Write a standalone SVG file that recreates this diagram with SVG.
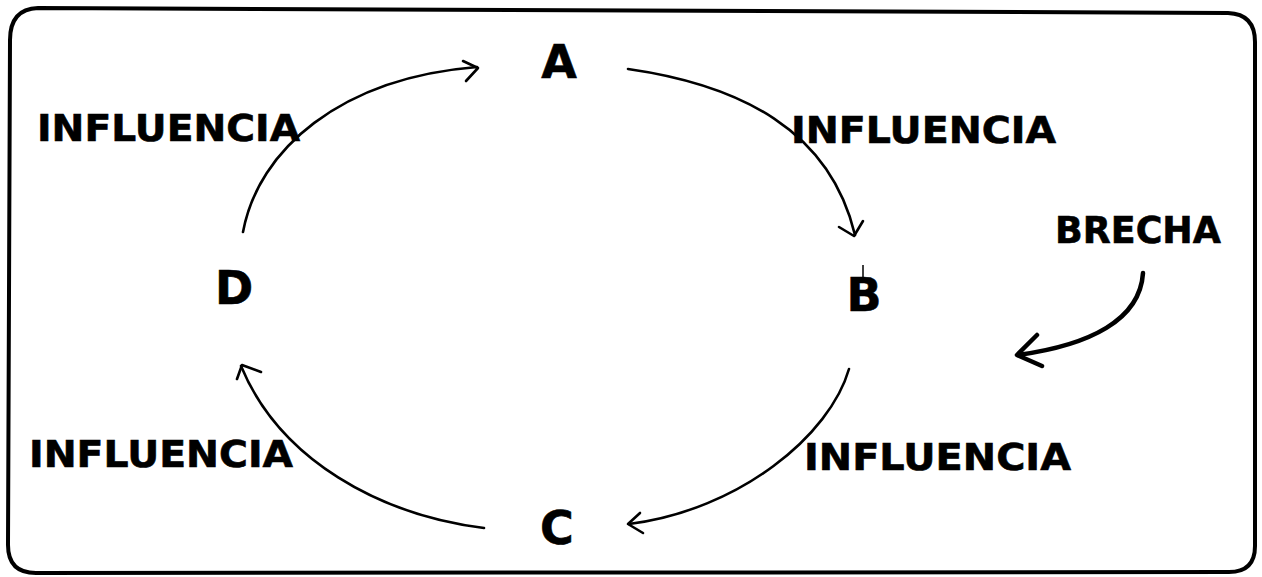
<svg xmlns="http://www.w3.org/2000/svg" width="1262" height="577" viewBox="0 0 1262 577">
<style>
.lbl{font-family:"DejaVu Sans","Liberation Sans",sans-serif;font-weight:bold;fill:#000;stroke:#000;stroke-width:0.6;}
.node{font-size:46px;text-anchor:middle;}
.inf{font-size:37px;}
.con{fill:none;stroke:#000;stroke-width:2.6;stroke-linecap:round;stroke-linejoin:round;}
.thick{stroke-width:4.5;}
</style>
<rect x="0" y="0" width="1262" height="577" fill="#fff"/>
<path d="M10,40 Q10,9 38,8 L1228,13 Q1255,14 1255,42 L1255,546 Q1255,572 1229,572 L36,573 Q8,573 8,545 Z" fill="none" stroke="#000" stroke-width="4"/>
<g id="node-A"><text class="lbl node" x="559" y="78">A</text></g>
<g id="node-B"><text class="lbl node" x="864" y="311">B</text><line x1="863" y1="265" x2="863" y2="280" stroke="#000" stroke-width="1.5"/></g>
<g id="node-C"><text class="lbl node" x="557" y="544">C</text></g>
<g id="node-D"><text class="lbl node" x="234" y="304">D</text></g>
<g id="labels">
<text class="lbl inf" x="37" y="141" textLength="263" lengthAdjust="spacingAndGlyphs">INFLUENCIA</text>
<text class="lbl inf" x="791" y="143" textLength="265" lengthAdjust="spacingAndGlyphs">INFLUENCIA</text>
<text class="lbl inf" x="29" y="467" textLength="264" lengthAdjust="spacingAndGlyphs">INFLUENCIA</text>
<text class="lbl inf" x="804" y="470" textLength="267" lengthAdjust="spacingAndGlyphs">INFLUENCIA</text>
<text class="lbl inf" x="1055" y="243" textLength="166" lengthAdjust="spacingAndGlyphs">BRECHA</text>
</g>
<g id="connectors">
<path class="con" d="M243,232 C258,150 340,78 477,67"/>
<path class="con" d="M463,61 L478,68 L466,81"/>
<path class="con" d="M628,69 C740,85 830,130 855,235"/>
<path class="con" d="M839,227 L854,236 L863,221"/>
<path class="con" d="M849,369 C830,435 740,510 629,524"/>
<path class="con" d="M640,513 L628,524 L643,533"/>
<path class="con" d="M484,528 C380,515 280,460 241,366"/>
<path class="con" d="M261,372 L242,365 L237,379"/>
<path class="con thick" d="M1143,273 C1140,320 1090,345 1018,355"/>
<path class="con thick" d="M1037,335 L1017,355 L1042,366"/>
</g>
</svg>
